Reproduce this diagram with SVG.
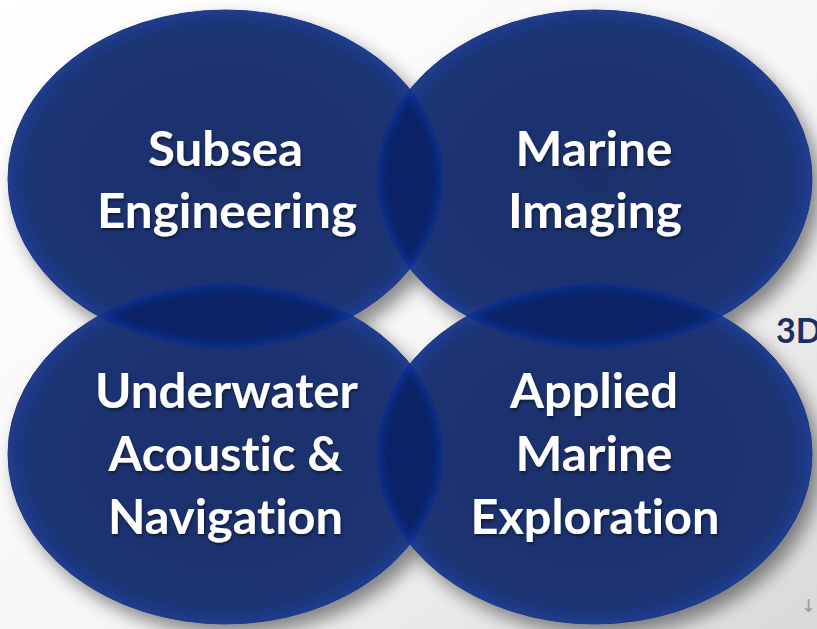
<svg xmlns="http://www.w3.org/2000/svg" width="817" height="629" viewBox="0 0 817 629">
<defs>
<linearGradient id="bg" x1="0" y1="0" x2="1" y2="1">
<stop offset="0" stop-color="#ffffff"/>
<stop offset="0.55" stop-color="#f6f6f6"/>
<stop offset="1" stop-color="#d9d9d9"/>
</linearGradient>
<radialGradient id="body" cx="0.5" cy="0.5" r="0.5">
<stop offset="0" stop-color="#1b2f6b"/>
<stop offset="0.9" stop-color="#1d3473"/>
<stop offset="1" stop-color="#203c8e"/>
</radialGradient>
<filter id="shadow" x="-10%" y="-10%" width="130%" height="130%">
<feGaussianBlur in="SourceAlpha" stdDeviation="9"/>
<feOffset dx="8" dy="10"/>
<feComponentTransfer><feFuncA type="linear" slope="0.45"/></feComponentTransfer>
<feMerge><feMergeNode/><feMergeNode in="SourceGraphic"/></feMerge>
</filter>
<filter id="blur" x="-10%" y="-10%" width="120%" height="120%"><feGaussianBlur stdDeviation="4"/></filter>
<filter id="ts" x="-10%" y="-20%" width="120%" height="150%">
<feDropShadow dx="1" dy="2" stdDeviation="1.5" flood-color="#000" flood-opacity="0.5"/>
</filter>
<clipPath id="cTL"><ellipse cx="225.5" cy="179" rx="217.5" ry="169"/></clipPath>
<clipPath id="cTR"><ellipse cx="594.5" cy="179" rx="217.5" ry="169"/></clipPath>
<clipPath id="cBL"><ellipse cx="225.5" cy="454" rx="217.5" ry="170"/></clipPath>
<clipPath id="cBR"><ellipse cx="594.5" cy="454" rx="217.5" ry="170"/></clipPath>
</defs>
<style>
.ell{fill:url(#body);stroke:#1a3682;stroke-width:1}
.lens{fill:#0b2366}
.rim{fill:none;stroke:#0b39b0;stroke-width:8;stroke-opacity:0.7;filter:url(#blur)}
.lbl{font-family:Lato,"Open Sans","Liberation Sans",sans-serif;font-weight:bold;font-size:48px;fill:#ffffff;text-anchor:middle;font-variant-ligatures:none;font-feature-settings:"liga" 0;filter:url(#ts)}
</style>
<rect width="817" height="629" fill="url(#bg)"/>
<text x="776" y="343" font-family="Lato,'Liberation Sans',sans-serif" font-weight="bold" font-size="34" fill="#1c2f62">3D</text>
<text x="801" y="612" font-family="'DejaVu Sans',sans-serif" font-size="18" fill="#9a9a9a">↓</text>

<g id="ellipses" filter="url(#shadow)">
<g id="node-subsea"><ellipse class="ell" cx="225.5" cy="179" rx="217.5" ry="169"/></g>
<g id="node-marine-imaging"><ellipse class="ell" cx="594.5" cy="179" rx="217.5" ry="169"/></g>
<g id="node-underwater"><ellipse class="ell" cx="225.5" cy="454" rx="217.5" ry="170"/></g>
<g id="node-applied"><ellipse class="ell" cx="594.5" cy="454" rx="217.5" ry="170"/></g>
</g>

<g id="overlaps">
<g clip-path="url(#cTL)"><g clip-path="url(#cTR)">
<rect class="lens" x="360" y="0" width="100" height="350"/>
<ellipse class="rim" cx="225.5" cy="179" rx="217.5" ry="169"/>
<ellipse class="rim" cx="594.5" cy="179" rx="217.5" ry="169"/>
</g></g>
<g clip-path="url(#cBL)"><g clip-path="url(#cBR)">
<rect class="lens" x="360" y="280" width="100" height="350"/>
<ellipse class="rim" cx="225.5" cy="454" rx="217.5" ry="170"/>
<ellipse class="rim" cx="594.5" cy="454" rx="217.5" ry="170"/>
</g></g>
<g clip-path="url(#cTL)"><g clip-path="url(#cBL)">
<rect class="lens" x="0" y="270" width="420" height="90"/>
<ellipse class="rim" cx="225.5" cy="179" rx="217.5" ry="169"/>
<ellipse class="rim" cx="225.5" cy="454" rx="217.5" ry="170"/>
</g></g>
<g clip-path="url(#cTR)"><g clip-path="url(#cBR)">
<rect class="lens" x="400" y="270" width="417" height="90"/>
<ellipse class="rim" cx="594.5" cy="179" rx="217.5" ry="169"/>
<ellipse class="rim" cx="594.5" cy="454" rx="217.5" ry="170"/>
</g></g>
</g>

<g id="labels">
<g id="label-subsea">
<text class="lbl" x="225.5" y="166" textLength="155" lengthAdjust="spacingAndGlyphs">Subsea</text>
<text class="lbl" x="227" y="228" textLength="260" lengthAdjust="spacingAndGlyphs">Engineering</text>
</g>
<g id="label-marine-imaging">
<text class="lbl" x="594" y="166" textLength="157" lengthAdjust="spacingAndGlyphs">Marine</text>
<text class="lbl" x="595" y="228" textLength="174" lengthAdjust="spacingAndGlyphs">Imaging</text>
</g>
<g id="label-underwater">
<text class="lbl" x="226.5" y="408" textLength="263" lengthAdjust="spacingAndGlyphs">Underwater</text>
<text class="lbl" x="225.5" y="471" textLength="234" lengthAdjust="spacingAndGlyphs">Acoustic &amp;</text>
<text class="lbl" x="225.5" y="534" textLength="235" lengthAdjust="spacingAndGlyphs">Navigation</text>
</g>
<g id="label-applied">
<text class="lbl" x="594" y="408" textLength="168" lengthAdjust="spacingAndGlyphs">Applied</text>
<text class="lbl" x="594" y="471" textLength="157" lengthAdjust="spacingAndGlyphs">Marine</text>
<text class="lbl" x="595" y="534" textLength="249" lengthAdjust="spacingAndGlyphs">Exploration</text>
</g>
</g>
</svg>
